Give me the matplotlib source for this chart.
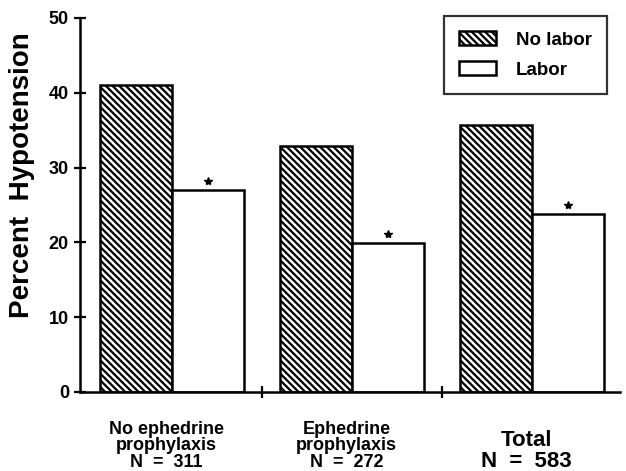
import matplotlib
matplotlib.use('Agg')
import matplotlib.pyplot as plt
import matplotlib.transforms as mtransforms
import numpy as np

# data
groups = ['No ephedrine\nprophylaxis\nN  =  311', 'Ephedrine\nprophylaxis\nN  =  272', 'Total\nN  =  583']
no_labor = [41.0, 32.9, 35.7]
labor = [27.0, 19.9, 23.8]
y_ticks = [0, 10, 20, 30, 40, 50]

plt.rcParams['font.family'] = ['Liberation Sans', 'DejaVu Sans']
plt.rcParams['font.weight'] = 'bold'
plt.rcParams['hatch.linewidth'] = 1.6
plt.rcParams['hatch.color'] = 'black'

W, H = 626, 471
fig = plt.figure(figsize=(W / 100, H / 100), dpi=100)
ax = fig.add_axes([80 / W, 1 - 392 / H, 540 / W, 374 / H])

x = np.arange(len(groups))
width = 0.4
ax.bar(x - width / 2, no_labor, width, color='white', edgecolor='black',
       hatch='\\' * 5, linewidth=1.8, label='No labor')
ax.bar(x + width / 2, labor, width, color='white', edgecolor='black',
       linewidth=1.8, label='Labor')

# significance stars above the labor bars
star_shift = ax.transData + mtransforms.ScaledTranslation(0, 0.09, fig.dpi_scale_trans)
ax.plot(x + width / 2, labor, linestyle='none', marker='*', ms=6,
        color='black', transform=star_shift)

ax.set_xlim(-0.51, 2.49)
ax.set_ylim(0, 50)
ax.set_yticks(y_ticks)
ax.set_xticks([0.5, 1.5])
ax.set_xticklabels([])
ax.tick_params(axis='y', direction='inout', length=8, width=1.6, labelsize=13, pad=4)
ax.tick_params(axis='x', direction='inout', length=8, width=1.6)
for lab in ax.get_yticklabels():
    lab.set_fontweight('bold')

ax.spines['top'].set_visible(False)
ax.spines['right'].set_visible(False)
ax.spines['left'].set_linewidth(1.8)
ax.spines['bottom'].set_linewidth(1.8)

fig.text(22 / W, 1 - 175 / H, 'Percent  Hypotension', rotation=90,
         ha='center', va='center', fontsize=20, fontweight='bold')

# group labels under the axis
lab_tr = mtransforms.blended_transform_factory(ax.transData, fig.transFigure)
for i, g in enumerate(groups):
    if g.count('\n') == 2:
        py, fs, ls = 446, 13, 0.95
    else:
        py, fs, ls = 451, 16, 1.05
    ax.text(x[i] - 0.03, 1 - py / H, g, transform=lab_tr, ha='center',
            va='center', fontsize=fs, fontweight='bold', linespacing=ls,
            multialignment='center')

leg = ax.legend(loc='upper right', bbox_to_anchor=(607 / W, 1 - 16 / H),
                bbox_transform=fig.transFigure, fontsize=13.5, frameon=True,
                fancybox=False, handlelength=2.0, handleheight=0.8,
                handletextpad=1.05, labelspacing=0.65, borderpad=0.8,
                borderaxespad=0)
leg.get_frame().set_edgecolor('black')
leg.get_frame().set_linewidth(1.6)
for t in leg.get_texts():
    t.set_fontweight('bold')

fig.savefig('out.png', dpi=100)
